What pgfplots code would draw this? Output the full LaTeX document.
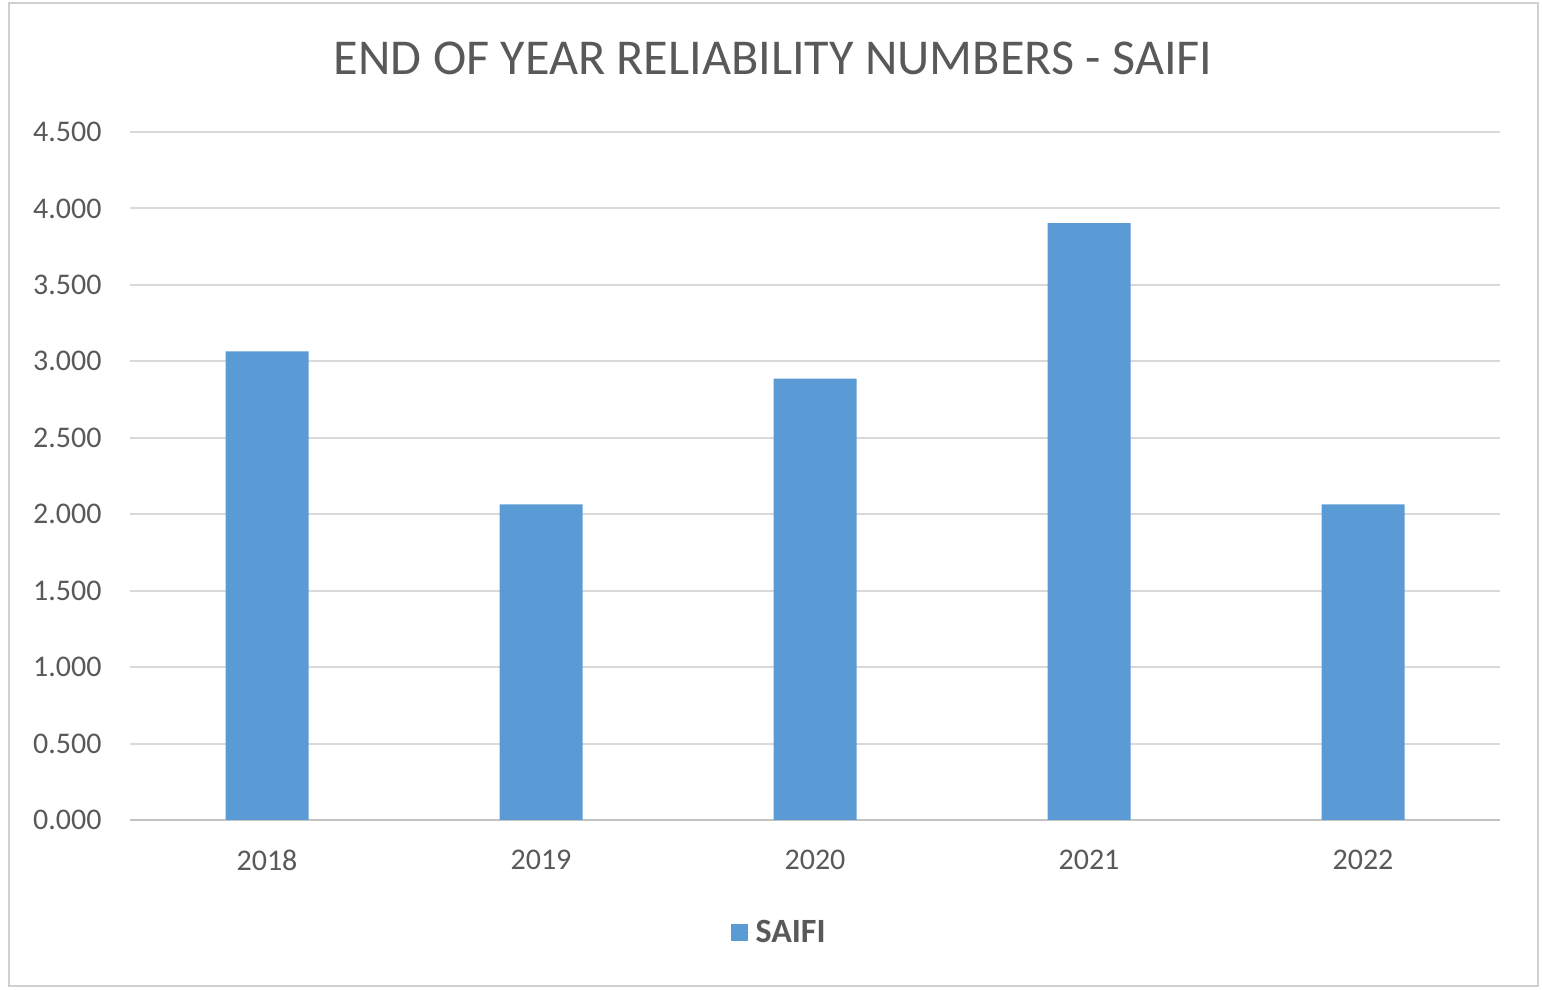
\documentclass[border=0pt]{standalone}
\usepackage{pgfplots}
\pgfplotsset{compat=1.18}
\usepackage{fontspec}
\setmainfont{Carlito}
\definecolor{barblue}{HTML}{5B9BD5}
\definecolor{txtgray}{HTML}{595959}
\definecolor{gridgray}{HTML}{D9D9D9}
\definecolor{framegray}{HTML}{D0D0D0}

\begin{document}
\begin{tikzpicture}
  % chart frame, 771pt x 495pt canvas
  \path[use as bounding box] (0pt,0pt) rectangle (771pt,495pt);
  \draw[framegray, line width=1.2pt] (4.5pt,2pt) rectangle (769pt,493.5pt);
  \begin{axis}[
    at={(65pt,85pt)}, anchor=south west,
    scale only axis,
    width=685pt, height=344pt,
    xmin=-0.5, xmax=4.5,
    ymin=0, ymax=4.5,
    ytick={0,0.5,...,4.5},
    xtick={0,1,2,3,4},
    xticklabels={2018,2019,2020,2021,2022},
    axis lines*=left,
    y axis line style={draw=none},
    x axis line style={draw=gridgray!90!black, line width=1.2pt},
    major tick length=0pt,
    ymajorgrids,
    grid style={gridgray, line width=1pt},
    ytick style={draw=none}, xtick style={draw=none},
    /pgf/number format/.cd, fixed, fixed zerofill, precision=3, 1000 sep={}, assume math mode=true,
    /pgfplots/.cd,
    tick label style={font=\fontsize{15}{18}\selectfont, text=txtgray},
    yticklabel style={inner sep=0pt, anchor=east, xshift=-14pt},
    xticklabel style={inner sep=0pt, anchor=north, yshift=-15pt},
    title={END OF YEAR RELIABILITY NUMBERS - SAIFI},
    title style={at={(axis description cs:0.4695,1.090)}, anchor=center, inner sep=0pt,
      font=\fontsize{25.1}{29}\selectfont, text=txtgray},
    legend style={at={(axis description cs:0.4745,-0.164)}, anchor=center, draw=none,
      font=\fontsize{17}{20}\selectfont\bfseries, text=txtgray},
    legend cell align=left,
    legend image code/.code={%
      \fill[barblue] (0pt,-4.25pt) rectangle (8.5pt,4.25pt);
      \path (8.5pt,0pt) -- (10.5pt,0pt);},
  ]
    \addplot[ybar, bar width=41.5pt, fill=barblue, draw=none] coordinates {
      (0,3.065) (1,2.065) (2,2.887) (3,3.904) (4,2.065)
    };
    \addlegendentry{SAIFI}
  \end{axis}
\end{tikzpicture}
\end{document}
